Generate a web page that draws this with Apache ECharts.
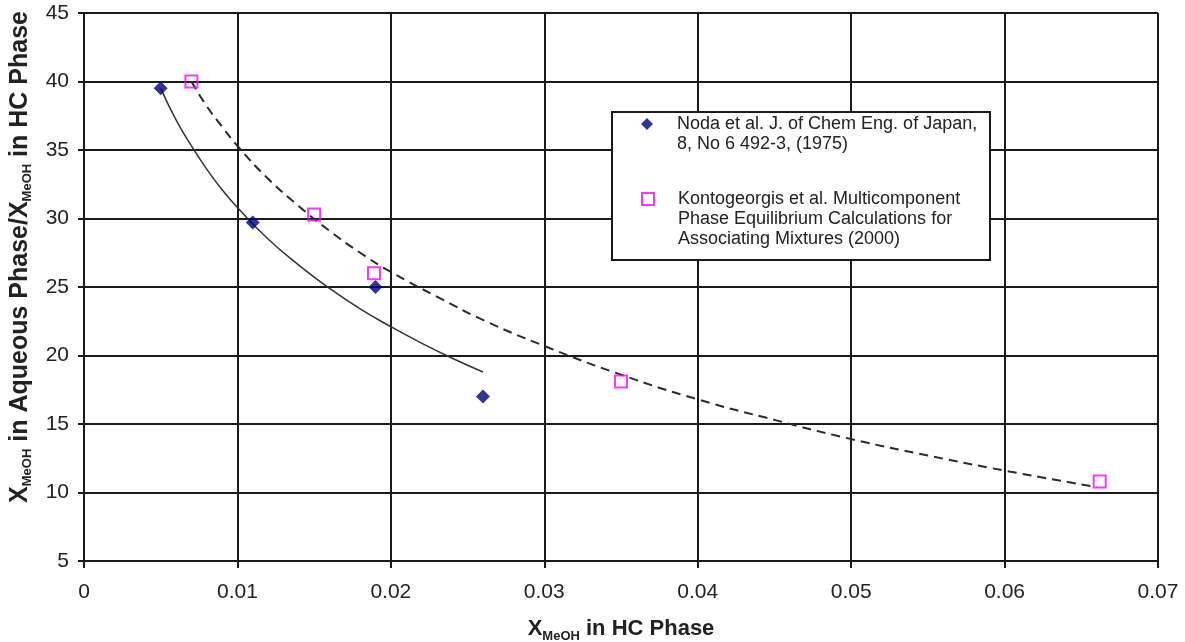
<!DOCTYPE html>
<html>
<head>
<meta charset="utf-8">
<title>Methanol partition ratio</title>
<script src="https://cdn.jsdelivr.net/npm/echarts@6/dist/echarts.min.js"></script>
<style>
  html, body { margin: 0; padding: 0; background: #fff; }
  #chart { width: 1185px; height: 642px; }
</style>
</head>
<body>
<div id="chart"></div>
<script>
// Measured data: methanol mole fraction in the hydrocarbon phase vs. partition ratio
const nodaX = [0.005, 0.011, 0.019, 0.026];
const nodaY = [39.5, 29.7, 25.0, 17.0];

const kontoX = [0.007, 0.015, 0.0189, 0.035, 0.0662];
const kontoY = [40.0, 30.3, 26.0, 18.1, 10.8];

// Logarithmic trend curves
const nodaTrendX = [0.005, 0.006, 0.007, 0.008, 0.009, 0.010, 0.012, 0.014, 0.016, 0.018, 0.020, 0.022, 0.024, 0.026];
const nodaTrendY = [39.5, 37.2, 35.3, 33.6, 32.1, 30.8, 28.5, 26.6, 24.9, 23.4, 22.1, 20.9, 19.8, 18.8];

const kontoTrendX = [0.007, 0.008, 0.009, 0.010, 0.012, 0.014, 0.016, 0.018, 0.020, 0.023, 0.026, 0.030, 0.035, 0.040, 0.045, 0.050, 0.055, 0.060, 0.066];
const kontoTrendY = [40.0, 38.2, 36.7, 35.3, 32.9, 30.9, 29.1, 27.5, 26.1, 24.3, 22.6, 20.7, 18.6, 16.8, 15.3, 13.9, 12.7, 11.6, 10.4];

// Axis tick labels
const xTickLabels = ['0', '0.01', '0.02', '0.03', '0.04', '0.05', '0.06', '0.07'];
const yTickLabels = ['5', '10', '15', '20', '25', '30', '35', '40', '45'];

// Legend entries
const nodaName = 'Noda';
const kontoName = 'Kontogeorgis';
const nodaLegendLines = ['Noda et al. J. of Chem Eng. of Japan,', '8, No 6 492-3, (1975)'];
const kontoLegendLines = ['Kontogeorgis et al. Multicomponent', 'Phase Equilibrium Calculations for', 'Associating Mixtures (2000)'];

const zip = (xs, ys) => xs.map((x, i) => [x, ys[i]]);

const FONT = '"Liberation Sans", Arial, sans-serif';
const GRID_COLOR = '#1a1a1a';
const TEXT_COLOR = '#222';

// Blank lines above keep the first text line level with the legend icon
const legendText = lines => '\n'.repeat(lines.length - 1) + lines.join('\n');

// Axis titles with a subscript
const titleRich = (size) => ({
  m: { fontSize: size, fontWeight: 'bold', fontFamily: FONT, color: TEXT_COLOR, lineHeight: 28 },
  s: { fontSize: 13, fontWeight: 'bold', fontFamily: FONT, color: TEXT_COLOR, lineHeight: 28, verticalAlign: 'bottom' }
});

const chart = echarts.init(document.getElementById('chart'), null, { renderer: 'canvas' });

const legendBase = {
  orient: 'vertical',
  left: 641,
  padding: 0,
  itemWidth: 12,
  itemHeight: 12,
  selectedMode: false,
  textStyle: {
    fontFamily: FONT,
    fontSize: 18,
    lineHeight: 20,
    color: TEXT_COLOR,
    padding: [0, 0, 0, 19]
  }
};

chart.setOption({
  animation: false,
  backgroundColor: '#fff',
  textStyle: { fontFamily: FONT },
  grid: { left: 84, top: 13, right: 27, bottom: 81, containLabel: false, outerBoundsMode: 'none' },
  graphic: [{
    type: 'rect',
    z: 3,
    shape: { x: 612, y: 112, width: 378, height: 148 },
    style: { fill: '#fff', stroke: GRID_COLOR, lineWidth: 2 }
  }],
  legend: [
    Object.assign({}, legendBase, {
      top: 94,
      data: [nodaName],
      formatter: () => legendText(nodaLegendLines)
    }),
    Object.assign({}, legendBase, {
      top: 149,
      data: [kontoName],
      formatter: () => legendText(kontoLegendLines)
    })
  ],
  xAxis: {
    type: 'value',
    min: 0,
    max: 0.07,
    interval: 0.01,
    name: '{m|X}{s|MeOH}{m| in HC Phase}',
    nameLocation: 'middle',
    nameGap: 54,
    nameTextStyle: { rich: titleRich(22) },
    axisLine: { show: true, onZero: false, lineStyle: { color: GRID_COLOR, width: 2 } },
    axisTick: { show: true, inside: false, length: 7, lineStyle: { color: GRID_COLOR, width: 2 } },
    axisLabel: {
      margin: 21,
      fontSize: 21,
      color: TEXT_COLOR,
      fontFamily: FONT,
      formatter: (v, i) => xTickLabels[i]
    },
    splitLine: { show: true, lineStyle: { color: GRID_COLOR, width: 2 } }
  },
  yAxis: {
    type: 'value',
    min: 5,
    max: 45,
    interval: 5,
    name: '{m|X}{s|MeOH}{m| in Aqueous Phase/X}{s|MeOH}{m| in HC Phase}',
    nameLocation: 'middle',
    nameRotate: 90,
    nameGap: 50,
    nameTextStyle: { rich: titleRich(25), padding: [0, 0, 0, 60] },
    axisLine: { show: true, onZero: false, lineStyle: { color: GRID_COLOR, width: 2 } },
    axisTick: { show: true, inside: false, length: 6, lineStyle: { color: GRID_COLOR, width: 2 } },
    axisLabel: {
      margin: 15,
      fontSize: 21,
      color: TEXT_COLOR,
      fontFamily: FONT,
      formatter: (v, i) => yTickLabels[i]
    },
    splitLine: { show: true, lineStyle: { color: GRID_COLOR, width: 2 } }
  },
  series: [
    {
      name: 'nodaTrend',
      type: 'line',
      data: zip(nodaTrendX, nodaTrendY),
      smooth: true,
      symbol: 'none',
      silent: true,
      z: 2,
      lineStyle: { color: '#333', width: 1.5 }
    },
    {
      name: 'kontoTrend',
      type: 'line',
      data: zip(kontoTrendX, kontoTrendY),
      smooth: true,
      symbol: 'none',
      silent: true,
      z: 2,
      lineStyle: { color: '#2a2a2a', width: 2, type: [9, 6] }
    },
    {
      name: nodaName,
      type: 'scatter',
      data: zip(nodaX, nodaY),
      symbol: 'diamond',
      symbolSize: 14,
      z: 5,
      itemStyle: { color: '#00007a' }
    },
    {
      name: kontoName,
      type: 'scatter',
      data: zip(kontoX, kontoY),
      symbol: 'rect',
      symbolSize: 12,
      z: 5,
      itemStyle: { color: 'rgba(255,255,255,0)', borderColor: '#ff00ff', borderWidth: 2 }
    }
  ]
});
</script>
</body>
</html>
